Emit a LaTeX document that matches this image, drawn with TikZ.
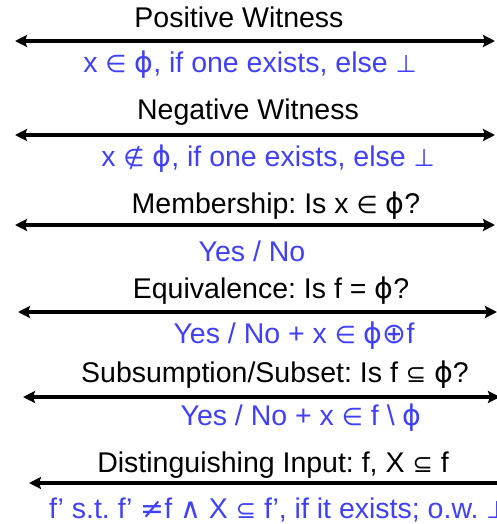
\documentclass[tikz,border=0pt]{standalone}
\usepackage{fontspec}
\setmainfont{Liberation Sans}
\newfontfamily\symf[Scale=0.85]{DejaVu Sans}
\newfontfamily\phif{DejaVu Sans}
\usetikzlibrary{arrows.meta}
\definecolor{ansblue}{RGB}{64,64,250}
\newcommand{\sy}[1]{{\symf #1}}
\newcommand{\sz}[1]{{\phif #1}}
\newcommand{\ph}{{\phif ϕ}}
\frenchspacing
\begin{document}
\begin{tikzpicture}[x=1pt,y=-1pt,
  lbl/.style={font=\fontsize{28.5}{32}\selectfont, anchor=base, inner sep=0pt},
  ans/.style={lbl, text=ansblue},
  tip/.tip={Stealth[length=12pt,width=12pt,inset=2pt]},
  link/.style={line width=3.2pt, tip-tip},
  halflink/.style={line width=3.2pt, tip-}]
\useasboundingbox (0,0) rectangle (497,524);
\clip (0,0) rectangle (497,524);
% row 1
\node[lbl] (q1) at (239,28) {Positive Witness};
\coordinate (l1) at (15,41); \coordinate (r1) at (495,41);
\draw[link] (l1) -- (r1);
\node[ans] (a1) at (250,73) {x \sy{∈} \ph, if one exists, else \sy{⊥}};
% row 2
\node[lbl] (q2) at (248,120) {Negative Witness};
\coordinate (l2) at (15,135); \coordinate (r2) at (495,135);
\draw[link] (l2) -- (r2);
\node[ans] (a2) at (268,166) {x \sy{∉} \ph, if one exists, else \sy{⊥}};
% row 3
\node[lbl] (q3) at (276,213) {Membership: Is x \sy{∈} \ph?};
\coordinate (l3) at (15,225); \coordinate (r3) at (495,225);
\draw[link] (l3) -- (r3);
\node[ans] (a3) at (252,261) {Yes / No};
% row 4
\node[lbl] (q4) at (271,298) {Equivalence: Is f = \ph?};
\coordinate (l4) at (18,312); \coordinate (r4) at (497,312);
\draw[link] (l4) -- (r4);
\node[ans] (a4) at (294,343) {Yes / No + x \sy{∈} \ph\sz{⊕}f};
% row 5
\node[lbl] (q5) at (275,382) {Subsumption/Subset: Is f \sy{⊆} \ph?};
\coordinate (l5) at (23,397); \coordinate (r5) at (500,397);
\draw[link] (l5) -- (r5);
\node[ans] (a5) at (301,425) {Yes / No + x \sy{∈} f \textbackslash\ \ph};
% row 6
\node[lbl] (q6) at (273,472) {Distinguishing Input: f, X \sy{⊆} f};
\coordinate (l6) at (29,483); \coordinate (r6) at (497,483);
\draw[halflink] (l6) -- (r6);
\node[ans, anchor=base west] (a6) at (49,518) {f’ s.t. f’ \sz{≠}f \sz{∧} X \sy{⊆} f’, if it exists; o.w. \sy{⊥}};
\end{tikzpicture}
\end{document}
